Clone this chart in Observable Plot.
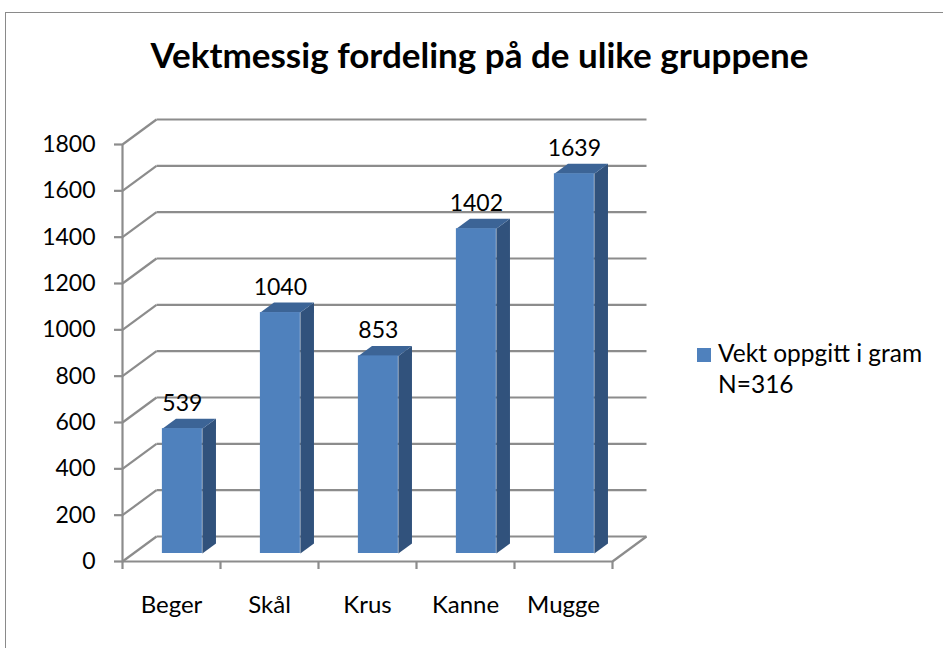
<!DOCTYPE html>
<html>
<head>
<meta charset="utf-8">
<script src="https://cdn.jsdelivr.net/npm/d3@7"></script>
<script src="https://cdn.jsdelivr.net/npm/@observablehq/plot@0.6"></script>
<style>
  body { margin: 0; background: #fff; }
  #wrap { position: relative; width: 943px; height: 648px; overflow: hidden; background: #fff;
          font-family: Lato, "Open Sans", "DejaVu Sans", sans-serif; color: #000; }
  #border { position: absolute; left: 5px; top: 12px; width: 1000px; height: 800px;
            border: 1.5px solid #8a8a8a; box-sizing: border-box; }
  #title { position: absolute; left: 8px; width: 943px; top: 32px; text-align: center;
           font-weight: bold; font-size: 35px; line-height: 44px; }
  #plot { position: absolute; left: 0; top: 0; }
  #legend { position: absolute; left: 697px; top: 337px; font-size: 24.5px; line-height: 31px; }
  #legend .sw { display: inline-block; width: 14px; height: 14px; background: #4F81BD;
                margin-right: 7px; vertical-align: 0px; }
  #legend .l2 { padding-left: 21px; }
</style>
</head>
<body>
<div id="wrap">
  <div id="border"></div>
  <div id="plot"></div>
  <div id="title"></div>
  <div id="legend"></div>
</div>
<script>
// ---- data ----
const categories = ["Beger", "Skål", "Krus", "Kanne", "Mugge"];
const values = [539, 1040, 853, 1402, 1639];
const yTicks = [0, 200, 400, 600, 800, 1000, 1200, 1400, 1600, 1800];
const titleText = "Vektmessig fordeling på de ulike gruppene";
const seriesLines = ["Vekt oppgitt i gram", "N=316"];

// ---- projection (3D depth expressed in data units) ----
const xRange = [122, 612], yRange = [561, 144];
const pxPerX = (xRange[1] - xRange[0]) / categories.length;
const pxPerY = (yRange[0] - yRange[1]) / 1800;
const DXU = 34 / pxPerX;      // full depth, x data units
const DYU = 25 / pxPerY;      // full depth, y data units
const zFront = 0.32, zBack = 0.72;  // bar depth
const barHalf = 0.204;             // half bar width in category units

const bars = categories.map((c, i) => ({cat: c, i, v: values[i],
  x1: i + 0.5 - barHalf, x2: i + 0.5 + barHalf}));

const P = (u, v, z) => ({x: u + z * DXU, y: v + z * DYU});

const sidePts = bars.flatMap(b => [
  P(b.x2, 0, zFront), P(b.x2, b.v, zFront), P(b.x2, b.v, zBack), P(b.x2, 0, zBack)
].map(p => ({...p, cat: b.cat})));
const topPts = bars.flatMap(b => [
  P(b.x1, b.v, zFront), P(b.x2, b.v, zFront), P(b.x2, b.v, zBack), P(b.x1, b.v, zBack)
].map(p => ({...p, cat: b.cat})));

const grid = "#8c8c8c";

const chart = Plot.plot({
  width: 943, height: 648,
  marginLeft: 122, marginRight: 331, marginTop: 144, marginBottom: 87,
  style: {fontFamily: 'Lato, "Open Sans", sans-serif', background: "transparent", overflow: "visible"},
  x: {type: "linear", domain: [0, categories.length], range: xRange, axis: null},
  y: {type: "linear", domain: [0, 1800], range: yRange, axis: null},
  marks: [
    // back wall gridlines
    Plot.link(yTicks, {x1: P(0, 0, 1).x, x2: P(categories.length, 0, 1).x,
      y1: d => P(0, d, 1).y, y2: d => P(0, d, 1).y, stroke: grid, strokeWidth: 2.2}),
    // left wall diagonals
    Plot.link(yTicks, {x1: 0, y1: d => d, x2: P(0, 0, 1).x, y2: d => P(0, d, 1).y,
      stroke: grid, strokeWidth: 2.2}),
    // floor right edge
    Plot.link([0], {x1: categories.length, y1: 0, x2: P(categories.length, 0, 1).x, y2: P(0, 0, 1).y,
      stroke: grid, strokeWidth: 2.2}),
    // bar side faces
    Plot.line(sidePts, {x: "x", y: "y", z: "cat", fill: "#31527C", stroke: "none"}),
    // bar top faces
    Plot.line(topPts, {x: "x", y: "y", z: "cat", fill: "#3C6496", stroke: "none"}),
    // bar front faces
    Plot.rect(bars, {x1: d => P(d.x1, 0, zFront).x, x2: d => P(d.x2, 0, zFront).x,
      y1: d => P(0, 0, zFront).y, y2: d => P(0, d.v, zFront).y, fill: "#4F81BD"}),
    // value labels
    Plot.text(bars, {x: d => P(d.i + 0.5, d.v, zFront).x, y: d => P(0, d.v, zFront).y,
      text: d => String(d.v), lineAnchor: "bottom", dy: -18, fontSize: 23, fill: "#000"}),
    // front axis lines
    Plot.ruleY([0], {x1: 0, x2: categories.length, stroke: grid, strokeWidth: 2.2}),
    Plot.ruleX([0], {y1: 0, y2: 1800, stroke: grid, strokeWidth: 2.2}),
    // axes
    Plot.axisY(yTicks, {anchor: "left", tickSize: 8, tickPadding: 19, stroke: grid, strokeWidth: 2.2,
      fill: "#000", fontSize: 23, label: null, tickFormat: d => String(d)}),
    Plot.axisX(d3.range(categories.length + 1), {anchor: "bottom", tickSize: 8, stroke: grid,
      strokeWidth: 2.2, tickFormat: () => "", label: null}),
    // category labels
    Plot.text(categories, {x: (d, i) => i + 0.5, y: 0, text: d => d, lineAnchor: "bottom",
      dy: 51, fontSize: 24, fill: "#000"})
  ]
});
document.getElementById("plot").appendChild(chart);
document.getElementById("title").textContent = titleText;
document.getElementById("legend").innerHTML =
  `<div><span class="sw"></span>${seriesLines[0]}</div><div class="l2">${seriesLines[1]}</div>`;
</script>
</body>
</html>
